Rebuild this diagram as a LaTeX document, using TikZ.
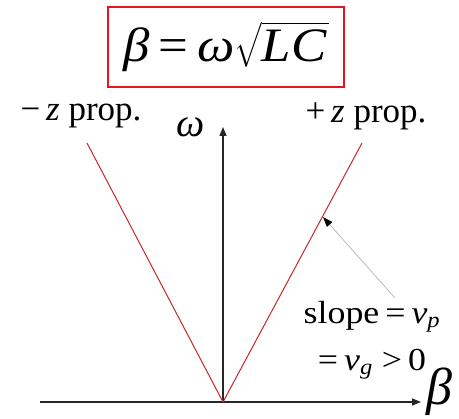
\documentclass[tikz,border=0pt]{standalone}
\usepackage{fontspec}
\setmainfont{Liberation Serif}
\usepackage{exscale}
\usepackage{tikz}
\usetikzlibrary{arrows.meta, positioning}
\definecolor{boxred}{RGB}{230, 20, 30}
\definecolor{linered}{RGB}{200, 40, 40}
\tikzstyle{axis} = [-{Triangle[length=9pt, width=7pt]}, line width=1.4pt, black!85]
\tikzstyle{branch} = [draw=linered, line width=1pt]
\tikzstyle{pointer} = [-{Triangle[length=10pt, width=7pt, color=black]}, draw=black!25, line width=0.9pt]
\tikzstyle{lbl} = [font=\fontsize{35}{40}\selectfont, inner sep=0pt]

\begin{document}
\begin{tikzpicture}[x=1pt, y=-1pt]
    \useasboundingbox (0,0) rectangle (459,419);
    % Formula box
    \node[draw=boxred, line width=2.5pt, minimum width=236pt, minimum height=80pt, font=\fontsize{48}{54}\selectfont] (formula) at (226,47) {\scalebox{1.1}[1]{\textit{β}\,=\,\textit{ω}$\sqrt{\mbox{\itshape LC\kern2pt}}$}};

    % Axes
    \coordinate (O) at (223,402);
    \coordinate (xstart) at (40,402);
    \coordinate (xend) at (421,402);
    \coordinate (yend) at (223,127);
    \draw[axis] (xstart) -- (xend);
    \draw[axis] (O) -- (yend);
    \node[font=\fontsize{52}{56}\selectfont, inner sep=0pt] (beta) at (439,392) {\textit{β}};
    \node[font=\fontsize{40}{42}\selectfont, inner sep=0pt] (omega) at (191,127) {\textit{ω}};

    % Propagation branches
    \coordinate (rp) at (362,143);
    \coordinate (lp) at (87,143);
    \draw[branch] (O) -- (rp);
    \draw[branch] (O) -- (lp);
    \node[lbl] (minus) at (81,116) {−\,\textit{z} prop.};
    \node[lbl] (plus) at (366,116) {+\,\textit{z} prop.};

    % Slope annotation
    \node[lbl, font=\fontsize{32}{47}\selectfont, align=center] (slope) at (372,340) {\scalebox{1.12}[1]{slope\,=\,\textit{v}$_{\mbox{\fontsize{22}{22}\selectfont\itshape p}}$}\\ \scalebox{1.12}[1]{=\,\textit{v}$_{\mbox{\fontsize{22}{22}\selectfont\itshape g}}$\kern8pt>\,0}};
    \coordinate (tail) at (395,298);
    \coordinate (tip) at (323,217);
    \draw[pointer] (tail) -- (tip);
\end{tikzpicture}
\end{document}
